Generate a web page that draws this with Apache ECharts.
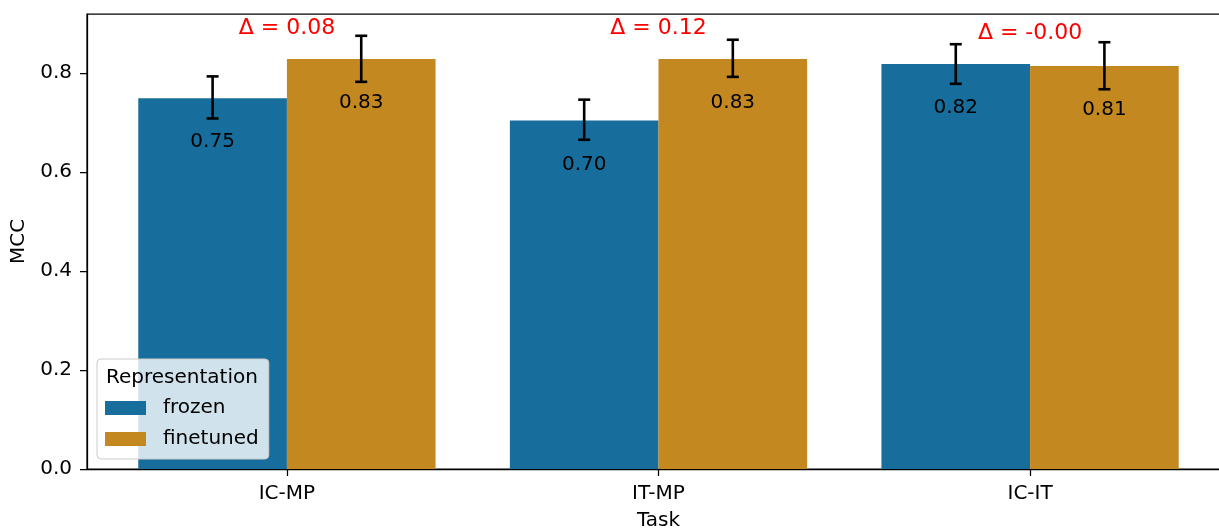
<!DOCTYPE html>
<html>
<head>
<meta charset="utf-8">
<title>MCC by task</title>
<script src="https://cdn.jsdelivr.net/npm/echarts@6/dist/echarts.min.js"></script>
<style>
  html, body { margin: 0; padding: 0; background: #fff; }
  #chart { width: 1219px; height: 529px; }
</style>
</head>
<body>
<div id="chart"></div>
<script>
// Tasks and mean MCC per representation
const tasks = ['IC-MP', 'IT-MP', 'IC-IT'];
const frozen = [0.749, 0.704, 0.818];
const finetuned = [0.828, 0.828, 0.814];

// Confidence intervals (lower / upper) for each bar
const frozenLow = [0.708, 0.665, 0.778];
const frozenHigh = [0.793, 0.746, 0.858];
const finetunedLow = [0.782, 0.792, 0.767];
const finetunedHigh = [0.875, 0.867, 0.862];

// Y-axis tick values
const yTicks = [0, 0.2, 0.4, 0.6, 0.8];

const FONT = 'DejaVu Sans';
const colors = { frozen: '#176d9c', finetuned: '#c38820' };

function barSeries(name, values, lows, highs, from, to) {
  return {
    name: name,
    type: 'custom',
    itemStyle: { color: colors[name] },
    encode: { x: 0, y: 1 },
    data: values.map((v, i) => [i, v, lows[i], highs[i]]),
    renderItem: function (params, api) {
      const x = api.value(0), v = api.value(1);
      const lo = api.value(2), hi = api.value(3);
      const tl = api.coord([x + from, v]);
      const br = api.coord([x + to, 0]);
      const cx = api.coord([x + (from + to) / 2, 0])[0];
      const yHi = api.coord([x, hi])[1];
      const yLo = api.coord([x, lo])[1];
      const err = { stroke: '#000', lineWidth: 2.6 };
      return {
        type: 'group',
        children: [
          { type: 'rect', shape: { x: tl[0], y: tl[1], width: br[0] - tl[0], height: br[1] - tl[1] },
            style: { fill: api.visual('color') } },
          { type: 'line', shape: { x1: cx, y1: yHi, x2: cx, y2: yLo }, style: err },
          { type: 'line', shape: { x1: cx - 6, y1: yHi, x2: cx + 6, y2: yHi }, style: err },
          { type: 'line', shape: { x1: cx - 6, y1: yLo, x2: cx + 6, y2: yLo }, style: err },
          { type: 'text', style: { text: v.toFixed(2), x: cx, y: tl[1] + 44, align: 'center',
              verticalAlign: 'middle', fill: '#000', font: '20px "' + FONT + '"' } }
        ]
      };
    }
  };
}

const chart = echarts.init(document.getElementById('chart'), null, { renderer: 'canvas' });

chart.setOption({
  animation: false,
  backgroundColor: '#fff',
  textStyle: { fontFamily: FONT },
  title: {
    text: 'Representation',
    left: 106, top: 368, padding: 0, z: 10,
    textStyle: { fontFamily: FONT, fontSize: 20, fontWeight: 'normal', color: '#000' }
  },
  legend: {
    data: ['frozen', 'finetuned'],
    orient: 'vertical',
    left: 97, top: 359,
    padding: [39, 10, 10, 8],
    icon: 'rect',
    itemWidth: 41, itemHeight: 14, itemGap: 11,
    backgroundColor: 'rgba(255,255,255,0.8)',
    borderColor: '#cccccc', borderWidth: 1, borderRadius: 4,
    textStyle: { fontFamily: FONT, fontSize: 20, color: '#000', lineHeight: 20, padding: [0, 0, 0, 12] }
  },
  grid: {
    left: 87, top: 14, bottom: 60, width: 1143,
    outerBoundsMode: 'none', containLabel: false,
    show: true, borderColor: '#000', borderWidth: 1.25, backgroundColor: 'transparent'
  },
  xAxis: {
    type: 'value',
    min: -0.538, max: 2.538,
    name: 'Task', nameLocation: 'middle', nameGap: 42,
    nameTextStyle: { fontFamily: FONT, fontSize: 20, color: '#000' },
    axisLine: { onZero: false, lineStyle: { color: '#000', width: 1.25 } },
    axisTick: { show: true, length: 7, customValues: [0, 1, 2], lineStyle: { color: '#000', width: 1.25 } },
    axisLabel: { customValues: [0, 1, 2], margin: 15, fontFamily: FONT, fontSize: 20, color: '#000',
      formatter: v => tasks[Math.round(v)] },
    splitLine: { show: false }
  },
  yAxis: {
    type: 'value',
    min: 0, max: 0.919,
    name: 'MCC', nameLocation: 'middle', nameGap: 49, nameRotate: 90,
    nameTextStyle: { fontFamily: FONT, fontSize: 20, color: '#000' },
    axisLine: { show: true, onZero: false, lineStyle: { color: '#000', width: 1.25 } },
    axisTick: { show: true, length: 7, customValues: yTicks, lineStyle: { color: '#000', width: 1.25 } },
    axisLabel: { customValues: yTicks, margin: 15, fontFamily: FONT, fontSize: 20, color: '#000',
      formatter: v => v.toFixed(1) },
    splitLine: { show: false }
  },
  series: [
    barSeries('frozen', frozen, frozenLow, frozenHigh, -0.4, 0),
    barSeries('finetuned', finetuned, finetunedLow, finetunedHigh, 0, 0.4),
    {
      // difference between fine-tuned and frozen, written above each task
      type: 'custom',
      encode: { x: 0, y: 1 },
      data: tasks.map((t, i) => [i, Math.max(frozen[i], finetuned[i]) + 0.05, finetuned[i] - frozen[i]]),
      renderItem: function (params, api) {
        const p = api.coord([api.value(0), api.value(1)]);
        return {
          type: 'text',
          style: { text: '\u0394 = ' + api.value(2).toFixed(2), x: p[0], y: p[1] + 5,
            align: 'center', verticalAlign: 'bottom', fill: '#ff0000', font: '22px "' + FONT + '"' }
        };
      }
    }
  ]
});
</script>
</body>
</html>
